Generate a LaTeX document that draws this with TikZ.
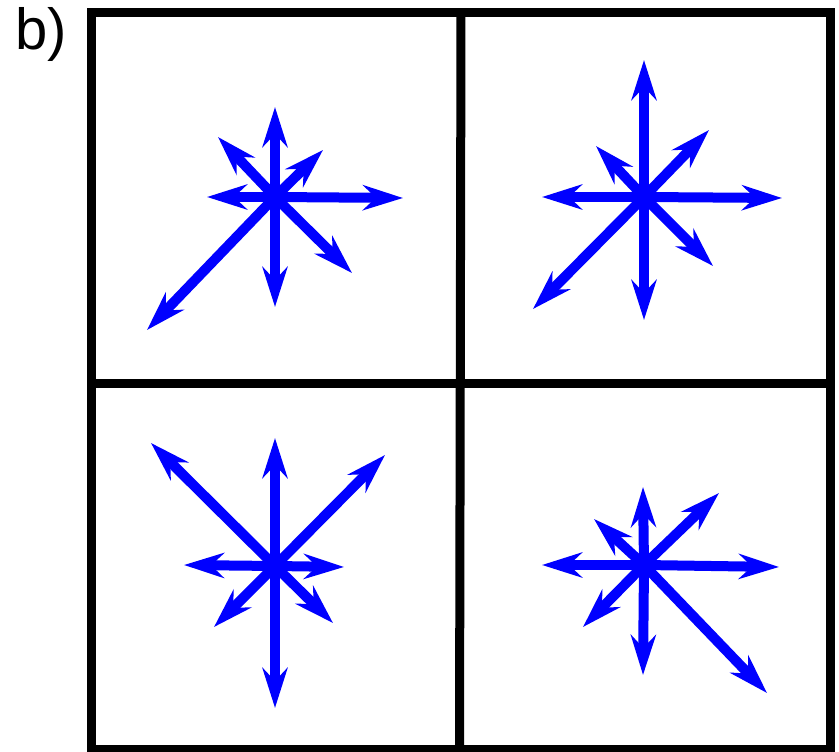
\documentclass[tikz,border=0pt]{standalone}
\usepackage{fontspec}
\setmainfont{Liberation Sans}
\usetikzlibrary{arrows.meta}
\begin{document}
\begin{tikzpicture}[x=1pt,y=-1pt,
  frameline/.style={line width=9pt,black},
  vec/.style={line width=10pt,draw={rgb,255:red,0;green,0;blue,255},
    -{Stealth[length=40pt,width=25pt,inset=13pt]}},
  lbl/.style={font=\fontsize{58}{60}\selectfont,anchor=base west,inner sep=0pt}]
\useasboundingbox (0,0) rectangle (839,752);
% frame
\draw[frameline] (91,13) rectangle (830,749);
\draw[frameline] (461,13) -- (459.5,749);
\draw[frameline] (91,383) -- (830,383);
\node[lbl] (label) at (15,50) {b)};
% panel 1
\coordinate (c1) at (275,197);
\coordinate (a1n) at (275,107);
\coordinate (a1s) at (275,307);
\coordinate (a1e) at (403,198);
\coordinate (a1w) at (207,197);
\coordinate (a1nw) at (218,137);
\coordinate (a1ne) at (323,150);
\coordinate (a1se) at (352,273);
\coordinate (a1sw) at (147,330);
\foreach \d in {n,s,e,w,nw,ne,se,sw} \draw[vec] (c1) -- (a1\d);
% panel 2
\coordinate (c2) at (644,197);
\coordinate (a2n) at (644,60);
\coordinate (a2s) at (644,320);
\coordinate (a2e) at (782,198);
\coordinate (a2w) at (542,197);
\coordinate (a2nw) at (596,146);
\coordinate (a2ne) at (709,130);
\coordinate (a2se) at (713,266);
\coordinate (a2sw) at (533,309);
\foreach \d in {n,s,e,w,nw,ne,se,sw} \draw[vec] (c2) -- (a2\d);
% panel 3
\coordinate (c3) at (275,566);
\coordinate (a3n) at (275,438);
\coordinate (a3s) at (275,708);
\coordinate (a3e) at (344,567);
\coordinate (a3w) at (184,565);
\coordinate (a3nw) at (151,443);
\coordinate (a3ne) at (385,455);
\coordinate (a3se) at (333,623);
\coordinate (a3sw) at (214,627);
\foreach \d in {n,s,e,w,nw,ne,se,sw} \draw[vec] (c3) -- (a3\d);
% panel 4
\coordinate (c4) at (644,565);
\coordinate (a4n) at (643,487);
\coordinate (a4s) at (643,675);
\coordinate (a4e) at (779,567);
\coordinate (a4w) at (542,565);
\coordinate (a4nw) at (594,519);
\coordinate (a4ne) at (719,493);
\coordinate (a4se) at (767,693);
\coordinate (a4sw) at (583,627);
\foreach \d in {n,s,e,w,nw,ne,se,sw} \draw[vec] (c4) -- (a4\d);
\end{tikzpicture}
\end{document}
